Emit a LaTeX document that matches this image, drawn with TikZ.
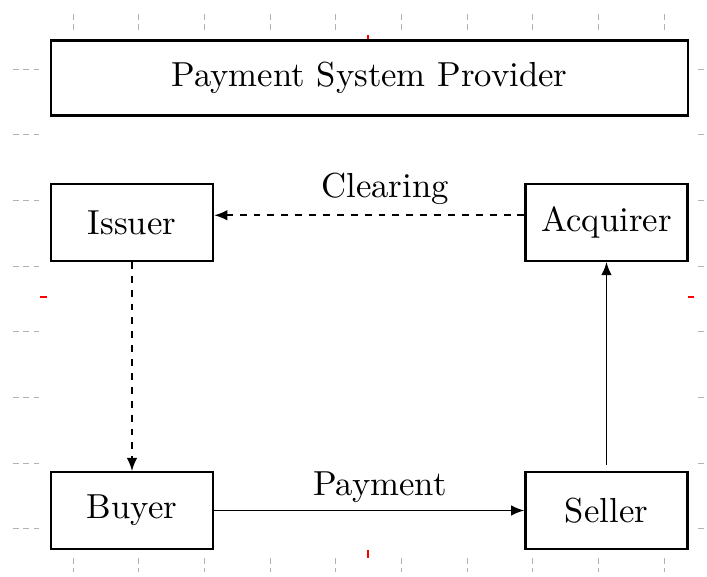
\documentclass[tikz,border=0pt]{standalone}
\usepackage{graphicx}
\usetikzlibrary{arrows.meta}
\newcommand{\bigtxt}[1]{\scalebox{1.5}{#1}}
\begin{document}
\begin{tikzpicture}[x=0.015175cm,y=-0.015175cm,
  box/.style={draw,line width=1pt,rectangle,inner sep=0pt},
  smallbox/.style={box,minimum width=2.458cm,minimum height=1.16cm},
  conn/.style={line width=0.85pt,-{Latex[length=2mm,width=1.6mm]}},
  lbl/.style={inner sep=0pt},
  tick/.style={draw=gray!60,line width=0.4pt,dash pattern=on 2.5pt off 2pt},
  redmark/.style={draw=red,line width=0.7pt}]
\useasboundingbox (0,0) rectangle (707,577);
% helper ticks
\foreach \k in {0,...,9}{
  \draw[tick] ({73+65.7*\k},14) -- ({73+65.7*\k},31);
  \draw[tick] ({73+65.7*\k},558) -- ({73+65.7*\k},572);
}
\foreach \k in {0,...,7}{
  \draw[tick] (13,{69+65.7*\k}) -- (39,{69+65.7*\k});
  \draw[tick] (698,{69+65.7*\k}) -- (707,{69+65.7*\k});
}
\draw[redmark] (368,35) -- (368,42);
\draw[redmark] (368,550) -- (368,558);
\draw[redmark] (40,297) -- (47,297);
\draw[redmark] (688,297) -- (694,297);
% nodes
\node[box,minimum width=9.667cm,minimum height=1.14cm] (psp) at (369.5,78) {\bigtxt{Payment System Provider}};
\node[smallbox] (iss) at (132,222.5) {\bigtxt{Issuer}};
\node[smallbox] (acq) at (606.5,222.5) {\bigtxt{Acquirer}};
\node[smallbox] (buy) at (132,510.5) {\bigtxt{Buyer}};
\node[smallbox] (sel) at (606.5,510.5) {\bigtxt{Seller}};
% connectors
\draw[conn,dashed] ([yshift=0.11cm]acq.west) -- ([yshift=0.11cm]iss.east);
\draw[conn,dashed] (iss.south) -- (buy.north);
\draw[conn] ([yshift=0.09cm]sel.north) -- (acq.south);
\draw[conn] (buy.east) -- (sel.west);
% labels
\node[lbl] (lclear) at (385,189) {\bigtxt{Clearing}};
\node[lbl] (lpay) at (380,487) {\bigtxt{Payment}};
\end{tikzpicture}
\end{document}
